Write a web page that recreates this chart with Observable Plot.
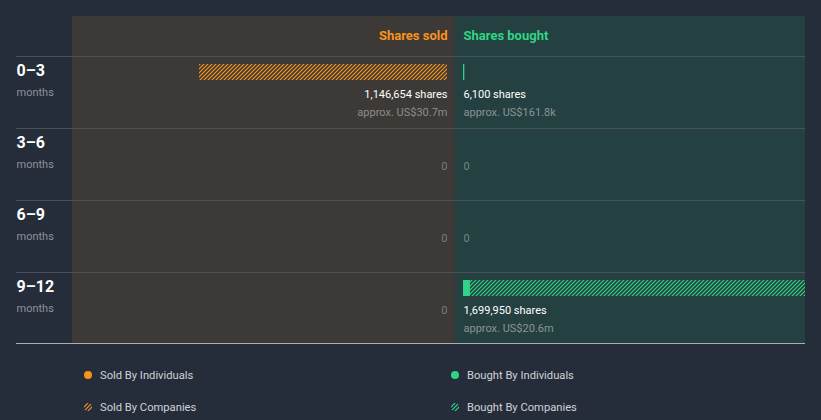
<!DOCTYPE html>
<html><head><meta charset="utf-8">
<script src="https://cdn.jsdelivr.net/npm/d3@7"></script>
<script src="https://cdn.jsdelivr.net/npm/@observablehq/plot@0.6"></script>
<style>
html,body{margin:0;padding:0;background:#262d3a;font-family:Roboto,sans-serif;}
#chart svg{display:block;}
#legend{position:relative;height:64px;width:821px;}
.item{position:absolute;display:flex;align-items:center;font-size:11.2px;color:#cfd2d7;height:14px;}
.item svg{margin-right:8px;display:block;}
</style></head><body><div id="chart"></div><div id="legend"></div>
<script>
const periods = ["0–3", "3–6", "6–9", "9–12"];
const soldIndividuals = [0, 0, 0, 0];
const soldCompanies = [1146654, 0, 0, 0];
const boughtIndividuals = [6100, 0, 0, 32000];
const boughtCompanies = [0, 0, 0, 1667950];
const soldShares = [1146654, 0, 0, 0];
const boughtShares = [6100, 0, 0, 1699950];
const soldValue = ["US$30.7m", null, null, null];
const boughtValue = ["US$161.8k", null, null, "US$20.6m"];
const legendItems = ["Sold By Individuals", "Bought By Individuals", "Sold By Companies", "Bought By Companies"];

const ORANGE = "#f7941d", GREEN = "#2ed585";
const fmt = d3.format(",");

const rows = periods.map((period, i) => ({
  period, i,
  sold: soldShares[i], bought: boughtShares[i],
  soldValue: soldValue[i], boughtValue: boughtValue[i]
}));

const segments = [];
periods.forEach((p, i) => {
  const si = soldIndividuals[i], sc = soldCompanies[i];
  const bi = boughtIndividuals[i], bc = boughtCompanies[i];
  if (si > 0) segments.push({i, side: "sold", x1: -si, x2: 0, fill: ORANGE});
  if (sc > 0) segments.push({i, side: "sold", x1: -(si + sc), x2: -si, fill: "url(#hatch-orange)"});
  if (bi > 0) segments.push({i, side: "bought", x1: 0, x2: bi, fill: GREEN});
  if (bc > 0) segments.push({i, side: "bought", x1: bi, x2: bi + bc, fill: "url(#hatch-green)"});
});

const xMin = -1770850, xMax = 1618300;
const panels = [
  {x1: xMin, x2: 0, fill: "#3d3936"},
  {x1: 0, x2: xMax, fill: "#254041"}
];

const chart = Plot.plot({
  width: 821, height: 356,
  marginLeft: 72, marginRight: 16, marginTop: 56, marginBottom: 12,
  style: {background: "transparent", fontFamily: "Roboto, sans-serif", overflow: "visible"},
  x: {domain: [xMin, xMax], axis: null},
  y: {domain: [0, 4], range: [56, 344], axis: null},
  marks: [
    Plot.rect(panels, {x1: "x1", x2: "x2", fill: "fill", insetTop: -40}),
    Plot.ruleY([0, 1, 2, 3], {stroke: "#4b4f56", insetLeft: -56}),
    Plot.rect(segments.filter(d => d.side === "sold"), {
      x1: "x1", x2: "x2", y1: "i", y2: d => d.i + 1, fill: "fill",
      insetTop: 8, insetBottom: 48, insetLeft: -8, insetRight: 8, clip: true
    }),
    Plot.rect(segments.filter(d => d.side === "bought"), {
      x1: "x1", x2: "x2", y1: "i", y2: d => d.i + 1, fill: "fill",
      insetTop: 8, insetBottom: 48, insetLeft: 8, insetRight: -8, clip: true
    }),
    // headers
    Plot.text([{x: 0, y: 0, t: "Shares sold"}], {x: "x", y: "y", text: "t", dx: -8, dy: -21, textAnchor: "end", fill: ORANGE, fontWeight: "bold", fontSize: 13}),
    Plot.text([{x: 0, y: 0, t: "Shares bought"}], {x: "x", y: "y", text: "t", dx: 8, dy: -21, textAnchor: "start", fill: GREEN, fontWeight: "bold", fontSize: 13}),
    // row labels
    Plot.text(rows, {frameAnchor: "left", y: "i", text: "period", dx: -56, dy: 14, textAnchor: "start", fill: "#ffffff", fontWeight: "bold", fontSize: 16}),
    Plot.text(rows, {frameAnchor: "left", y: "i", text: () => "months", dx: -56, dy: 36, textAnchor: "start", fill: "#8c9199", fontSize: 11}),
    // sold values
    Plot.text(rows, {x: () => 0, y: "i", text: d => d.sold > 0 ? fmt(d.sold) + " shares" : "0", dx: -8, dy: 38, textAnchor: "end", fill: d => d.sold > 0 ? "#ffffff" : "#7b7b7b", fontSize: 11}),
    Plot.text(rows.filter(d => d.soldValue), {x: () => 0, y: "i", text: d => "approx. " + d.soldValue, dx: -8, dy: 56, textAnchor: "end", fill: "#8e8c8a", fontSize: 11}),
    // bought values
    Plot.text(rows, {x: () => 0, y: "i", text: d => d.bought > 0 ? fmt(d.bought) + " shares" : "0", dx: 8, dy: 38, textAnchor: "start", fill: d => d.bought > 0 ? "#ffffff" : "#7a8485", fontSize: 11}),
    Plot.text(rows.filter(d => d.boughtValue), {x: () => 0, y: "i", text: d => "approx. " + d.boughtValue, dx: 8, dy: 56, textAnchor: "start", fill: "#8a9495", fontSize: 11}),
    Plot.ruleY([4], {stroke: "#a9aeb4", insetLeft: -56, dy: -1})
  ]
});

// hatch patterns
const ns = "http://www.w3.org/2000/svg";
function addPatterns(svg) {
  const defs = document.createElementNS(ns, "defs");
  [["hatch-orange", ORANGE], ["hatch-green", GREEN]].forEach(([id, c]) => {
    const p = document.createElementNS(ns, "pattern");
    p.setAttribute("id", id);
    p.setAttribute("patternUnits", "userSpaceOnUse");
    p.setAttribute("width", 4); p.setAttribute("height", 4);
    const path = document.createElementNS(ns, "path");
    path.setAttribute("d", "M-1,1 L1,-1 M0,4 L4,0 M3,5 L5,3");
    path.setAttribute("stroke", c);
    path.setAttribute("stroke-width", 1.2);
    p.appendChild(path);
    defs.appendChild(p);
  });
  svg.insertBefore(defs, svg.firstChild);
}
addPatterns(chart);
document.getElementById("chart").appendChild(chart);

// legend
const legend = document.getElementById("legend");
const pos = [[84, 12], [451, 12], [84, 44], [451, 44]];
const markers = [ORANGE, GREEN, "url(#hatch-orange)", "url(#hatch-green)"];
legendItems.forEach((label, k) => {
  const div = document.createElement("div");
  div.className = "item";
  div.style.left = pos[k][0] + "px";
  div.style.top = pos[k][1] + "px";
  const s = document.createElementNS(ns, "svg");
  s.setAttribute("width", 8); s.setAttribute("height", 8);
  const c = document.createElementNS(ns, "circle");
  c.setAttribute("cx", 4); c.setAttribute("cy", 4); c.setAttribute("r", 4);
  c.setAttribute("fill", markers[k]);
  s.appendChild(c);
  div.appendChild(s);
  const span = document.createElement("span");
  span.textContent = label;
  div.appendChild(span);
  legend.appendChild(div);
});
</script>
</body></html>
